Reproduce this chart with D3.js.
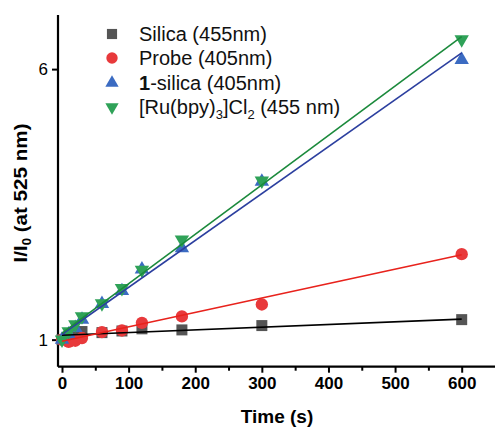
<!DOCTYPE html>
<html><head><meta charset="utf-8">
<script src="https://cdn.jsdelivr.net/npm/d3@7"></script>
<style>body{margin:0;background:#fff}svg{display:block}text{font-family:Arial,"Liberation Sans",sans-serif}</style>
</head><body><svg id="c" width="496" height="430"></svg>
<script>
const time = [0, 10, 20, 30, 60, 90, 120, 180, 300, 600];
const silica = [1.0, 1.03, 1.08, 1.15, 1.13, 1.16, 1.2, 1.18, 1.26, 1.37];
const probe = [1.0, 0.96, 0.98, 1.03, 1.14, 1.17, 1.31, 1.43, 1.65, 2.58];
const oneSilica = [1.0, 1.1, 1.22, 1.37, 1.66, 1.9, 2.3, 2.69, 3.92, 6.17];
const ruBpy = [1.0, 1.15, 1.28, 1.43, 1.67, 1.95, 2.29, 2.85, 3.94, 6.55];
const fitStart = [1.08, 0.97, 1.1, 1.12];
const fitEnd = [1.38, 2.57, 6.3, 6.6];
const fitRange = [0, 600];
const xTicks = [0, 100, 200, 300, 400, 500, 600];
const xMinor = [50, 150, 250, 350, 450, 550];
const yTicks = [1, 6];

const svg = d3.select("#c");
const x = d3.scaleLinear().domain([-6, 650]).range([58, 495]);
const y = d3.scaleLinear().domain([0.5, 7]).range([366.7, 15]);

const series = [
  {vals: silica, fill: "#555555", line: "#000000", sym: d3.symbolSquare, size: 121, rot: 0},
  {vals: probe, fill: "#e8393b", line: "#e8221c", sym: d3.symbolCircle, size: 120, rot: 0},
  {vals: oneSilica, fill: "#3b6bc2", line: "#2c3f9f", sym: d3.symbolTriangle, size: 90, rot: 0},
  {vals: ruBpy, fill: "#2fa258", line: "#1b8a3c", sym: d3.symbolTriangle, size: 90, rot: 180}
];

// axes
const xAxis = svg.append("g").attr("transform", "translate(0,366.7)")
  .call(d3.axisBottom(x).tickValues(xTicks).tickSize(6).tickPadding(4).tickFormat(d3.format("d")));
const xMin = svg.append("g").attr("transform", "translate(0,366.7)")
  .call(d3.axisBottom(x).tickValues(xMinor).tickSize(4).tickFormat(""));
xMin.select(".domain").remove();
xAxis.selectAll("text").attr("font-size", 17).attr("font-weight", "bold").attr("fill", "#000");
const yAxis = svg.append("g").attr("transform", "translate(58,0)")
  .call(d3.axisLeft(y).tickValues(yTicks).tickSize(6).tickPadding(4).tickFormat(d3.format("d")));
yAxis.selectAll("text").attr("font-size", 17).attr("fill", "#000");
[xAxis, xMin, yAxis].forEach(g => {
  g.select(".domain").attr("stroke", "#000").attr("stroke-width", 2.2);
  g.selectAll(".tick line").attr("stroke", "#000").attr("stroke-width", 2);
  g.attr("font-family", null);
});
xAxis.select(".domain").attr("d", `M${x.range()[0]},0H${x.range()[1]}`);
yAxis.select(".domain").attr("d", `M0,${y.range()[1]}V${y.range()[0]}`);

// markers
series.forEach(s => {
  const g = svg.append("g");
  g.selectAll("path").data(time.map((t, i) => [t, s.vals[i]])).join("path")
    .attr("d", d3.symbol().type(s.sym).size(s.size))
    .attr("transform", d => `translate(${x(d[0])},${y(d[1])}) rotate(${s.rot})`)
    .attr("fill", s.fill);
});
// fit lines
series.forEach((s, i) => {
  svg.append("line")
    .attr("x1", x(fitRange[0])).attr("y1", y(fitStart[i]))
    .attr("x2", x(fitRange[1])).attr("y2", y(fitEnd[i]))
    .attr("stroke", s.line).attr("stroke-width", 1.6);
});

// legend
const leg = svg.append("g");
const rows = [34, 58, 83, 107];
series.forEach((s, i) => {
  leg.append("path").attr("d", d3.symbol().type(s.sym).size(s.size * 0.85))
    .attr("transform", `translate(112,${rows[i]}) rotate(${s.rot})`).attr("fill", s.fill);
});
const lt = (i) => leg.append("text").attr("x", 139).attr("y", rows[i] + 7).attr("font-size", 20).attr("fill", "#111");
lt(0).text("Silica (455nm)");
lt(1).text("Probe (405nm)");
{ const t = lt(2); t.append("tspan").attr("font-weight", "bold").text("1"); t.append("tspan").text("-silica (405nm)"); }
{ const t = lt(3);
  t.append("tspan").text("[Ru(bpy)");
  t.append("tspan").attr("font-size", 13).attr("dy", 5).text("3");
  t.append("tspan").attr("dy", -5).text("]Cl");
  t.append("tspan").attr("font-size", 13).attr("dy", 5).text("2");
  t.append("tspan").attr("dy", -5).text(" (455 nm)");
}

// axis titles
svg.append("text").attr("x", 277).attr("y", 423).attr("text-anchor", "middle")
  .attr("font-size", 19).attr("font-weight", "bold").text("Time (s)");
{ const t = svg.append("text").attr("transform", "translate(27,193) rotate(-90)")
    .attr("text-anchor", "middle").attr("font-size", 19).attr("font-weight", "bold")
    .attr("textLength", 139).attr("lengthAdjust", "spacingAndGlyphs");
  t.append("tspan").text("I/I");
  t.append("tspan").attr("font-size", 12).attr("dy", 4).text("0");
  t.append("tspan").attr("dy", -4).text(" (at 525 nm)");
}
</script></body></html>
